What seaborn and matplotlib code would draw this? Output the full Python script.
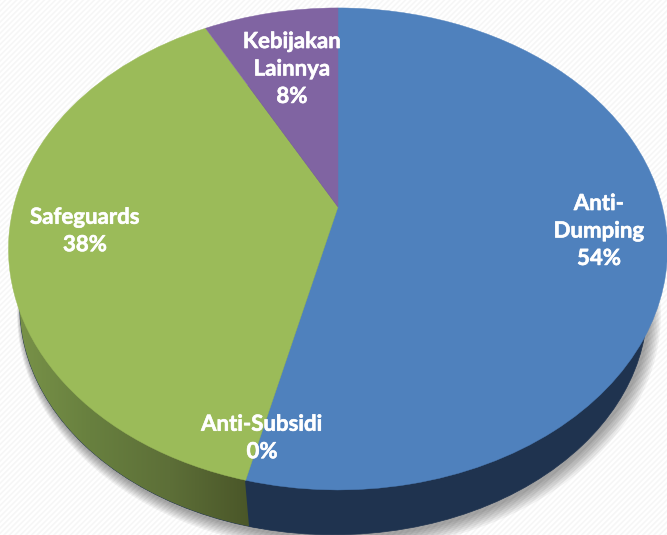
import numpy as np
import matplotlib
matplotlib.use('Agg')
import matplotlib.pyplot as plt
import matplotlib.patheffects as pe
from matplotlib.patches import PathPatch, Polygon, Rectangle
from matplotlib.path import Path
import seaborn as sns

sns.set_theme(style='white')
plt.rcParams['font.family'] = ['Lato', 'DejaVu Sans']
plt.rcParams['hatch.linewidth'] = 1.2

# Data, clockwise from the top
categories = ['Anti-\nDumping', 'Anti-Subsidi', 'Safeguards', 'Kebijakan\nLainnya']
shares = [53.8, 0, 38.4, 7.8]

top_colors = sns.color_palette(['#4f81bd', '#4f81bd', '#9bbb59', '#8064a2'])
side_colors = sns.color_palette(['#1f334f', '#1f334f', '#5f7236', '#4d3c62'])
olive_side = sns.blend_palette(['#7a9449', '#68803f', '#5d6f38', '#4a5628'], as_cmap=True)

label_xy = [(599, 231), (262, 438), (85, 231), (292, 69)]

BEND = 0.174


def project(verts, cx, cy, rx, ry):
    # tilts the flat pie so that the near edge looks bigger
    den = 1 + BEND * verts[:, 1]
    return np.column_stack([cx + rx * verts[:, 0] / den, cy - ry * verts[:, 1] / den])


fig, ax = plt.subplots(figsize=(6.67, 5.35), dpi=100)
fig.subplots_adjust(0, 0, 1, 1)

top_wedges, _ = ax.pie(shares, startangle=90, counterclock=False, colors=top_colors)
low_wedges, _ = ax.pie(shares, startangle=93, counterclock=False, colors=side_colors)

top_paths = [Path(project(w.get_path().vertices, 338, 207, 324.5, 233.7), w.get_path().codes) for w in top_wedges]
low_paths = [Path(project(w.get_path().vertices, 333.5, 266, 309, 222), w.get_path().codes) for w in low_wedges]
for w in top_wedges + low_wedges:
    w.remove()

ax.add_patch(Rectangle((0, 0), 667, 535, facecolor='white', edgecolor='#f6f6f6', hatch='//////', lw=0, zorder=0))

# soft shadow under the disc
circle = Path.unit_circle()
for grow in range(1, 9):
    shadow = Path(project(circle.vertices, 335 + 0.5 * grow, 268 + 0.6 * grow, 309 + grow, 222 + grow), circle.codes)
    ax.add_patch(PathPatch(shadow, facecolor='black', edgecolor='none', alpha=0.05, zorder=1))

# navy rim all round, then the olive part with its gradient
low_disc = Path(project(circle.vertices, 333.5, 266, 309, 222), circle.codes)
ax.add_patch(PathPatch(low_disc, facecolor=side_colors[0], edgecolor=side_colors[0], lw=0.5, zorder=2))

green_side = PathPatch(low_paths[2], facecolor='none', edgecolor='none', zorder=3)
ax.add_patch(green_side)
shade = ax.imshow(np.linspace(0, 1, 256).reshape(1, -1), cmap=olive_side, extent=(10, 250, 535, 300),
                  aspect='auto', zorder=3)
shade.set_clip_path(green_side)

# navy again right of the seam between olive and blue
seam_side = Polygon([(245, 480), (249, 526), (250, 535), (262, 535), (262, 480)], facecolor=side_colors[0],
                    edgecolor='none', zorder=3)
ax.add_patch(seam_side)
seam_side.set_clip_path(PathPatch(low_disc, transform=ax.transData))

for path, color in zip(top_paths, top_colors):
    ax.add_patch(PathPatch(path, facecolor=color, edgecolor=color, lw=0.3, zorder=4))

for name, value, (x, y) in zip(categories, shares, label_xy):
    ax.text(x, y, f'{name}\n{value:.0f}%', color='white', fontsize=16, fontweight='bold',
            ha='center', va='center', linespacing=1.38, zorder=5,
            path_effects=[pe.withStroke(linewidth=0.4, foreground='white')])

ax.set_aspect('auto')
ax.set_xlim(0, 667)
ax.set_ylim(535, 0)
ax.set_xticks([])
ax.set_yticks([])
ax.set_frame_on(False)

plt.savefig('out.png', dpi=100)
